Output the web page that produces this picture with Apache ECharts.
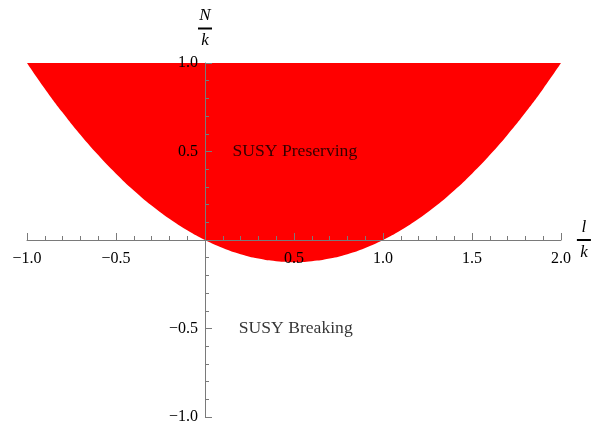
<!DOCTYPE html>
<html>
<head>
    <meta charset="utf-8">
    <title>SUSY region</title>
    <script src="https://cdn.jsdelivr.net/npm/echarts@6/dist/echarts.min.js"></script>
    <style>
        body { margin: 0; background: #fff; }
    </style>
</head>
<body>
    <div id="main" style="width: 591px;height:427px;"></div>
    <script type="text/javascript">
        // boundary of the red region (l/k , N/k)
        var boundaryX = [-1.0, -0.9, -0.8, -0.7, -0.6, -0.5, -0.4, -0.3, -0.2, -0.1,
                         0.0, 0.1, 0.2, 0.3, 0.4, 0.5, 0.6, 0.7, 0.8, 0.9,
                         1.0, 1.1, 1.2, 1.3, 1.4, 1.5, 1.6, 1.7, 1.8, 1.9, 2.0];
        var boundaryY = [1.0, 0.855, 0.72, 0.595, 0.48, 0.375, 0.28, 0.195, 0.12, 0.055,
                         0.0, -0.045, -0.08, -0.105, -0.12, -0.125, -0.12, -0.105, -0.08, -0.045,
                         0.0, 0.055, 0.12, 0.195, 0.28, 0.375, 0.48, 0.595, 0.72, 0.855, 1.0];

        // region labels
        var regionNames = ['SUSY Preserving', 'SUSY Breaking'];
        var regionX = [0.155, 0.19];
        var regionY = [0.5, -0.5];

        var serif = 'Liberation Serif';
        var axisGray = '#7a7a7a';

        // grid box; axes are shifted onto x = 0 / y = 0 with offset
        var gridLeft = 27, gridRight = 30, gridTop = 63, gridBottom = 10;
        var gridW = 591 - gridLeft - gridRight;
        var gridH = 427 - gridTop - gridBottom;
        var xMin = -1, xMax = 2, yMin = -1, yMax = 1;
        var yAxisShift = gridW * (0 - xMin) / (xMax - xMin);
        var xAxisShift = gridH * (0 - yMin) / (yMax - yMin);

        function tickText(v) {
            if (Math.abs(v) < 1e-9) return '';
            var s = Math.abs(v).toFixed(1);
            return v < 0 ? '\u2212' + s : s;
        }

        function fraction(top) {
            return {
                text: '{t|' + top + '}\n{bar|}\n{t|k}',
                rich: {
                    t: { fontFamily: serif, fontStyle: 'italic', fontSize: 17, color: '#000', lineHeight: 16, align: 'center' },
                    bar: { width: 14, height: 2, lineHeight: 9, backgroundColor: '#000', align: 'center' }
                }
            };
        }

        var myChart = echarts.init(document.getElementById('main'));

        var curve = boundaryX.map(function (x, i) { return [x, boundaryY[i]]; });
        var notes = regionNames.map(function (n, i) { return { name: n, value: [regionX[i], regionY[i]] }; });

        var xName = fraction('l');
        var yName = fraction('N');

        var option = {
            animation: false,
            grid: {
                left: gridLeft, right: gridRight, top: gridTop, bottom: gridBottom,
                containLabel: false, outerBoundsMode: 'none'
            },
            xAxis: {
                type: 'value',
                min: xMin, max: xMax, interval: 0.5,
                position: 'bottom',
                offset: -xAxisShift,
                z: 5,
                splitLine: { show: false },
                axisLine: { onZero: false, lineStyle: { color: axisGray, width: 1 } },
                axisTick: { inside: true, length: 7, lineStyle: { color: axisGray } },
                minorTick: { show: true, splitNumber: 5, length: 4, lineStyle: { color: axisGray } },
                axisLabel: {
                    margin: 11, fontFamily: serif, fontSize: 16, color: '#000',
                    showMinLabel: true, showMaxLabel: true,
                    formatter: tickText
                },
                name: xName.text,
                nameLocation: 'end',
                nameGap: 15,
                nameTextStyle: { rich: xName.rich }
            },
            yAxis: {
                type: 'value',
                min: yMin, max: yMax, interval: 0.5,
                position: 'left',
                offset: -yAxisShift,
                z: 5,
                splitLine: { show: false },
                axisLine: { onZero: false, lineStyle: { color: axisGray, width: 1 } },
                axisTick: { inside: true, length: 7, lineStyle: { color: axisGray } },
                minorTick: { show: true, splitNumber: 5, length: 4, lineStyle: { color: axisGray } },
                axisLabel: {
                    margin: 7, fontFamily: serif, fontSize: 16, color: '#000',
                    showMinLabel: true, showMaxLabel: true,
                    formatter: tickText
                },
                name: yName.text,
                nameLocation: 'end',
                nameGap: 14,
                nameTextStyle: { rich: yName.rich }
            },
            series: [
                {
                    type: 'line',
                    data: curve,
                    smooth: true,
                    showSymbol: false,
                    lineStyle: { width: 0 },
                    areaStyle: { color: '#ff0000', opacity: 1, origin: 'end' },
                    silent: true
                },
                {
                    type: 'scatter',
                    data: notes,
                    symbolSize: 0,
                    z: 6,
                    label: {
                        show: true,
                        position: 'right',
                        distance: 0,
                        fontFamily: serif,
                        fontSize: 17.6,
                        color: '#000',
                        formatter: function (p) { return p.name; }
                    },
                    silent: true
                }
            ]
        };

        myChart.setOption(option);
    </script>
</body>
</html>
